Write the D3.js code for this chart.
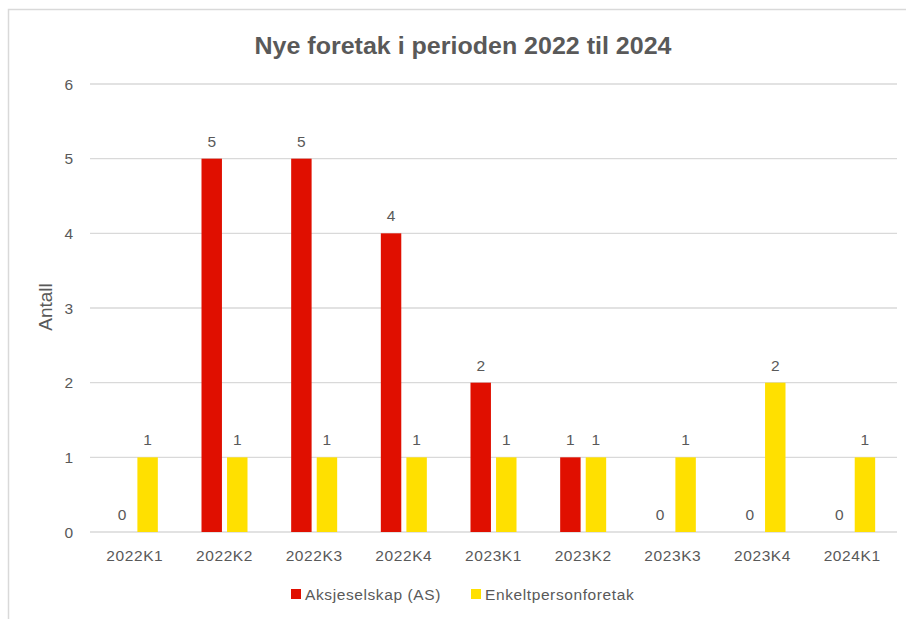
<!DOCTYPE html>
<html>
<head>
<meta charset="utf-8">
<script src="https://cdn.jsdelivr.net/npm/d3@7"></script>
<style>
  body { margin: 0; background: #fff; }
  svg { display: block; }
  text { font-family: "Liberation Sans", Arial, sans-serif; fill: #595959; }
</style>
</head>
<body>
<svg id="chart" width="906" height="619"></svg>
<script>
// data
const categories = ['2022K1','2022K2','2022K3','2022K4','2023K1','2023K2','2023K3','2023K4','2024K1'];
const seriesNames = ['Aksjeselskap (AS)', 'Enkeltpersonforetak'];
const asValues = [0, 5, 5, 4, 2, 1, 0, 0, 0];
const epfValues = [1, 1, 1, 1, 1, 1, 1, 2, 1];
const yTicks = [0, 1, 2, 3, 4, 5, 6];
const colors = ['#E00F00', '#FFE000'];

const svg = d3.select('#chart');

// outer chart frame (runs off right/bottom edge like the screenshot)
svg.append('rect')
  .attr('x', 8.5).attr('y', 9.5)
  .attr('width', 920).attr('height', 640)
  .attr('fill', 'none')
  .attr('stroke', '#d9d9d9')
  .attr('stroke-width', 1.5);

const margin = { top: 84, right: 9, bottom: 87, left: 90 };
const width = 906 - margin.left - margin.right;
const height = 619 - margin.top - margin.bottom;

const g = svg.append('g')
  .attr('transform', `translate(${margin.left},${margin.top})`);

const x0 = d3.scaleBand()
  .domain(categories)
  .range([0, width])
  .paddingInner(0.487)
  .paddingOuter(0.2435);

const x1 = d3.scaleBand()
  .domain([0, 1])
  .range([0, x0.bandwidth()])
  .paddingInner(0.2);

const y = d3.scaleLinear()
  .domain([0, 6])
  .range([height, 0]);

// gridlines
g.selectAll('line.grid')
  .data(yTicks)
  .enter().append('line')
  .attr('class', 'grid')
  .attr('x1', 0).attr('x2', width)
  .attr('y1', d => y(d)).attr('y2', d => y(d))
  .attr('stroke', '#d9d9d9')
  .attr('stroke-width', 1.3);

// y tick labels
g.selectAll('text.ytick')
  .data(yTicks)
  .enter().append('text')
  .attr('class', 'ytick')
  .attr('x', -17)
  .attr('y', d => y(d) + 5.5)
  .attr('text-anchor', 'end')
  .style('font-size', '15.5px')
  .text(d => d);

// bars
const rows = categories.map((c, i) => ({ cat: c, vals: [asValues[i], epfValues[i]] }));

const groups = g.selectAll('g.cat')
  .data(rows)
  .enter().append('g')
  .attr('class', 'cat')
  .attr('transform', d => `translate(${x0(d.cat)},0)`);

groups.selectAll('rect')
  .data(d => d.vals.map((v, k) => ({ k: k, v: v })))
  .enter().append('rect')
  .attr('x', d => x1(d.k))
  .attr('y', d => y(d.v))
  .attr('width', x1.bandwidth())
  .attr('height', d => height - y(d.v))
  .attr('fill', d => colors[d.k]);

groups.selectAll('text')
  .data(d => d.vals.map((v, k) => ({ k: k, v: v })))
  .enter().append('text')
  .attr('x', d => x1(d.k) + x1.bandwidth() / 2)
  .attr('y', d => y(d.v) - 12)
  .attr('text-anchor', 'middle')
  .style('font-size', '15.5px')
  .text(d => d.v);

// x labels
g.selectAll('text.xtick')
  .data(categories)
  .enter().append('text')
  .attr('class', 'xtick')
  .attr('x', d => x0(d) + x0.bandwidth() / 2)
  .attr('y', height + 29)
  .attr('text-anchor', 'middle')
  .style('font-size', '15.5px')
  .style('letter-spacing', '0.6px')
  .text(d => d);

// axis title
svg.append('text')
  .attr('transform', 'translate(52,307) rotate(-90)')
  .attr('text-anchor', 'middle')
  .style('font-size', '19px')
  .text('Antall');

// chart title
svg.append('text')
  .attr('x', 463)
  .attr('y', 54)
  .attr('text-anchor', 'middle')
  .attr('textLength', 417)
  .attr('lengthAdjust', 'spacingAndGlyphs')
  .style('font-family', '"Liberation Sans Narrow", "Liberation Sans", sans-serif')
  .style('font-weight', 'bold')
  .style('font-size', '24px')
  .text('Nye foretak i perioden 2022 til 2024');

// legend
const legendX = [291, 471];
const legend = svg.selectAll('g.legend')
  .data(seriesNames)
  .enter().append('g')
  .attr('class', 'legend')
  .attr('transform', (d, i) => `translate(${legendX[i]},589)`);

legend.append('rect')
  .attr('width', 10).attr('height', 10)
  .attr('fill', (d, i) => colors[i]);

legend.append('text')
  .attr('x', 14)
  .attr('y', 10.5)
  .style('font-size', '15.5px')
  .style('letter-spacing', '0.6px')
  .text(d => d);
</script>
</body>
</html>
